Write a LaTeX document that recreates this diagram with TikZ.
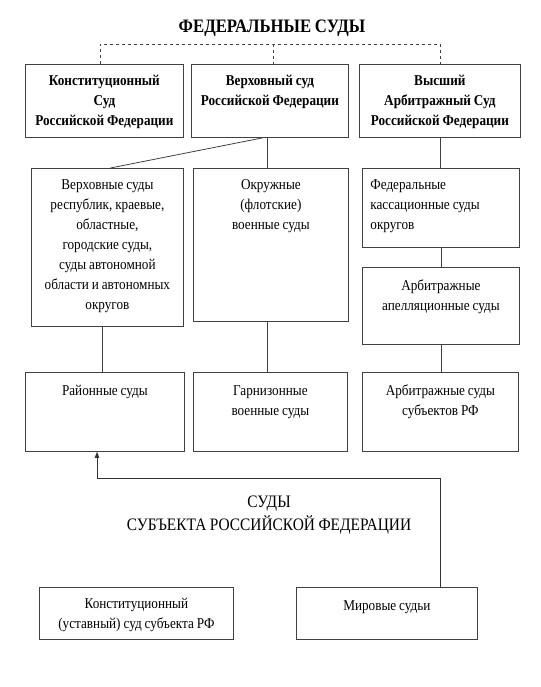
\documentclass[tikz,border=0pt]{standalone}
\usepackage{fontspec}
\setmainfont{Liberation Serif}[FakeStretch=0.88, WordSpace=0.9]
\usetikzlibrary{arrows.meta,positioning}
\tikzset{
  court box/.style 2 args={
    rectangle, draw=black!75, thick, anchor=north west,
    inner xsep=4pt, inner ysep=0pt, align=flush center,
    text width=#1, text height=21pt, text depth=#2,
    font=\fontsize{15}{20}\selectfont
  },
  court link/.style={draw=black!75, thick},
  court arrow/.style={-{Triangle[length=6pt,width=4.5pt]}, thick, black!80}
}

\begin{document}
\begin{tikzpicture}[x=1pt, y=-1pt]
    \useasboundingbox (0,0) rectangle (540,687);
    \node[anchor=base, font=\fontsize{19}{20}\selectfont\bfseries] (fedtitle) at (272,33) {ФЕДЕРАЛЬНЫЕ СУДЫ};
    % top row
    \node[court box={150pt}{52pt}, font=\fontsize{15}{20}\selectfont\bfseries] (constcourt) at (25,64) {Конституционный\\ Суд\\ Российской Федерации};
    \node[court box={149pt}{52pt}, font=\fontsize{15}{20}\selectfont\bfseries] (supreme) at (191,64) {Верховный суд\\ Российской Федерации};
    \node[court box={153pt}{52pt}, font=\fontsize{15}{20}\selectfont\bfseries] (higharb) at (359,64) {Высший\\ Арбитражный Суд\\ Российской Федерации};
    % second row
    \node[court box={144pt}{137pt}] (regional) at (31,168) {Верховные суды\\ республик, краевые,\\ областные,\\ городские суды,\\ суды автономной\\ области и автономных\\ округов};
    \node[court box={147pt}{132pt}] (district mil) at (193,168) {Окружные\\ (флотские)\\ военные суды};
    \node[court box={141pt}{58pt}, inner xsep=8pt, align=flush left] (cassation) at (362,168) {Федеральные\\ кассационные суды\\ округов};
    \node[court box={149pt}{54pt}, text height=23pt] (appeal) at (362,267) {Арбитражные\\ апелляционные суды};
    % third row
    \node[court box={151pt}{56pt}, text height=23pt] (districtc) at (25,372) {Районные суды};
    \node[court box={146pt}{56pt}, text height=23pt] (garrison) at (193,372) {Гарнизонные\\ военные суды};
    \node[court box={148pt}{56pt}, text height=23pt] (arbsubj) at (362,372) {Арбитражные суды\\ субъектов РФ};
    % subjects of the federation
    \node[anchor=base, align=center, font=\fontsize{17.5}{23}\selectfont] (subjtitle) at (269,530) {СУДЫ\\ СУБЪЕКТА РОССИЙСКОЙ ФЕДЕРАЦИИ};
    \node[court box={186pt}{31pt}] (charter) at (39,587) {Конституционный\\ (уставный) суд субъекта РФ};
    \node[court box={173pt}{29pt}, text height=23pt] (peace) at (296,587) {Мировые судьи};
    % links
    \coordinate (fedbar) at (273,44);
    \draw[court link, dashed] ([xshift=-4pt]constcourt.north) |- (fedbar) -| (higharb.north);
    \draw[court link, dashed] (fedbar) -- (fedbar |- supreme.north);
    \draw[court link] ([xshift=-7pt]supreme.south) -- ([xshift=3pt]regional.north);
    \draw[court link] ([xshift=-3pt]supreme.south) -- ([xshift=-3pt]supreme.south |- district mil.north);
    \draw[court link] (higharb.south) -- (higharb.south |- cassation.north);
    \draw[court link] (cassation.south) -- (appeal.north);
    \draw[court link] ([xshift=-5pt]regional.south) -- ([xshift=-5pt]regional.south |- districtc.north);
    \draw[court link] ([xshift=-4pt]district mil.south) -- ([xshift=-4pt]district mil.south |- garrison.north);
    \draw[court link] (appeal.south) -- (appeal.south |- arbsubj.north);
    \coordinate (bend) at (97,478);
    \draw[court arrow] (arbsubj.south |- peace.north) |- (bend) -- (bend |- districtc.south);
  \end{tikzpicture}
\end{document}
